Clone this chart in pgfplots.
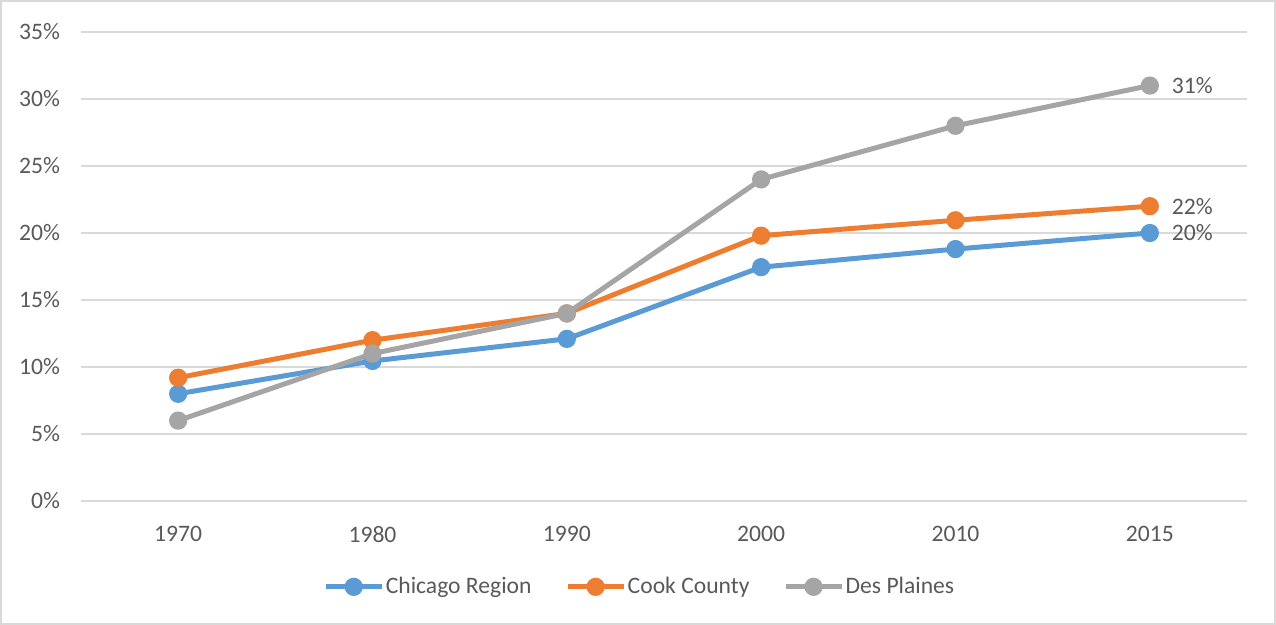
\documentclass[border=0pt]{standalone}
\usepackage{pgfplots}
\pgfplotsset{compat=1.18}
\usepackage{fontspec}
\setmainfont{Carlito}
\definecolor{cblue}{HTML}{5B9BD5}
\definecolor{corange}{HTML}{ED7D31}
\definecolor{cgray}{HTML}{A5A5A5}
\definecolor{txt}{HTML}{595959}
\definecolor{gridc}{HTML}{D9D9D9}
\newcommand{\lblfont}{\fontsize{11.8}{13}\selectfont}

\begin{document}
\begin{tikzpicture}
\useasboundingbox (0,0) rectangle (638pt,312.5pt);
\draw[gridc, line width=1pt] (0.5pt,0.5pt) rectangle (637.5pt,312pt);
\begin{axis}[
  at={(40.5pt,62pt)}, anchor=south west,
  scale only axis, width=583pt, height=234.5pt,
  xmin=-0.5, xmax=5.5, ymin=0, ymax=35,
  xtick={0,...,5}, xticklabels={1970,1980,1990,2000,2010,2015},
  ytick={0,5,...,35}, yticklabel={\pgfmathprintnumber{\tick}\%},
  /pgf/number format/assume math mode=true,
  ymajorgrids, grid style={gridc, line width=0.75pt},
  axis line style={draw=none}, major tick length=0pt,
  tick label style={font=\lblfont, text=txt},
  yticklabel style={xshift=-7pt},
  xticklabel style={yshift=-9pt},
  clip=false,
  legend columns=3,
  legend style={draw=none, at={(0.479,-0.183)}, anchor=center,
    font=\lblfont, text=txt, inner sep=0pt,
    nodes={inner sep=0.8pt},
    /tikz/every even column/.append style={column sep=16pt}},
  legend image code/.code={\draw[mark repeat=2,mark phase=2,#1]
    plot coordinates {(0pt,0pt)(14pt,0pt)(28pt,0pt)};},
  every axis plot/.append style={line width=2.5pt, mark=*, mark size=3.3pt, mark options={solid}},
]
\addplot[color=cblue] coordinates {
  (0,8.0) (1,10.45) (2,12.1) (3,17.45) (4,18.8) (5,20.0)
};
\addlegendentry{Chicago Region}
\addplot[color=corange] coordinates {
  (0,9.2) (1,12.0) (2,14.0) (3,19.8) (4,20.95) (5,22.0)
};
\addlegendentry{Cook County}
\addplot[color=cgray] coordinates {
  (0,6.0) (1,11.0) (2,14.0) (3,24.0) (4,28.0) (5,31.0)
};
\addlegendentry{Des Plaines}
\node[anchor=west, text=txt, font=\lblfont, xshift=7.5pt] at (axis cs:5,31) {31\%};
\node[anchor=west, text=txt, font=\lblfont, xshift=7.5pt] at (axis cs:5,22) {22\%};
\node[anchor=west, text=txt, font=\lblfont, xshift=7.5pt] at (axis cs:5,20) {20\%};
\end{axis}
\end{tikzpicture}
\end{document}
